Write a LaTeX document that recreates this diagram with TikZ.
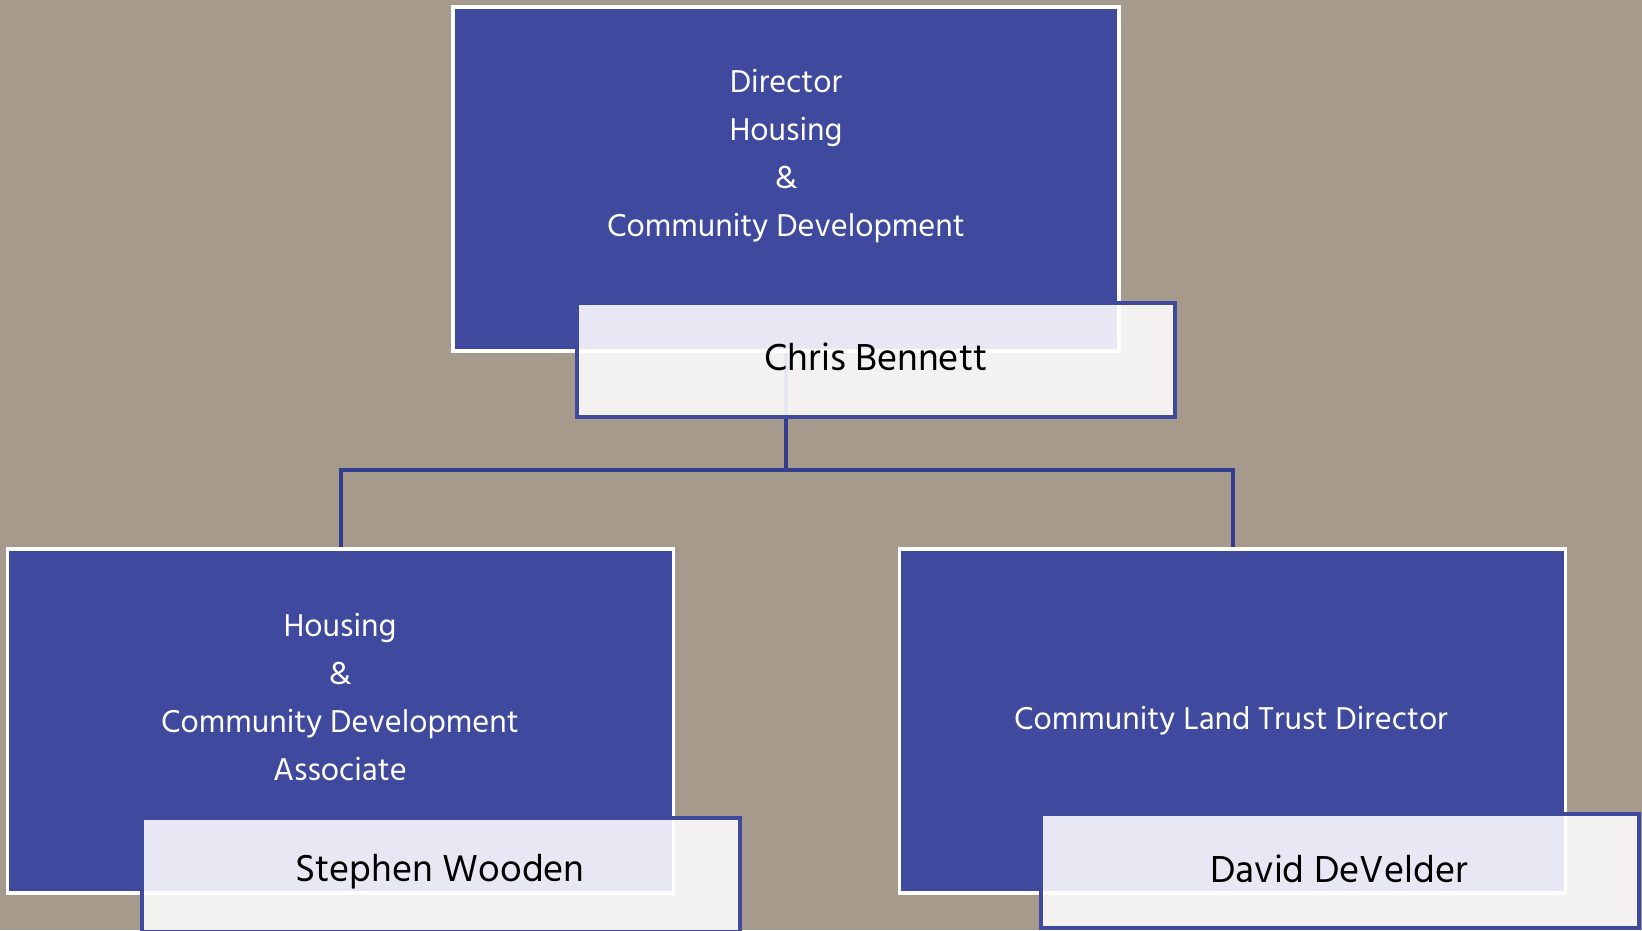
\documentclass[tikz,border=0pt]{standalone}
\usepackage{fontspec}
\setmainfont{Hind Madurai}
\definecolor{bg}{HTML}{A69A8C}
\definecolor{boxblue}{HTML}{3F4A9E}
\definecolor{lineblue}{HTML}{333D8E}
\tikzset{
  rolebox/.style={draw=white, line width=3.5pt, fill=boxblue, inner sep=0pt, minimum width=666pt, minimum height=344pt},
  namebox/.style={draw=boxblue, line width=3.5pt, fill=white, fill opacity=0.88, draw opacity=1, text opacity=1, inner sep=0pt, minimum width=598pt, minimum height=114pt},
  roletext/.style={text=white, align=center, font=\fontsize{32.4}{48}\selectfont, inner sep=0pt},
  nametext/.style={text=black, font=\fontsize{38.5}{44}\selectfont, inner sep=0pt},
  conn/.style={draw=lineblue, line width=4pt}
}
\begin{document}
\begin{tikzpicture}[x=1pt,y=-1pt]
\fill[bg] (0,0) rectangle (1642,930);
\useasboundingbox (0,0) rectangle (1642,930);
% role boxes
\node[rolebox] (top) at (786,179) {};
\node[rolebox] (left) at (340.5,721) {};
\node[rolebox] (right) at (1232.5,721) {};
% connectors
\coordinate (bus) at (786,470);
\draw[conn] (top.south) -- (bus);
\draw[conn] (left.north) |- (bus) -| (right.north);
% role texts
\node[roletext] (toptext) at (786,156) {Director\\Housing\\\&\\Community Development};
\node[roletext] (lefttext) at (340,697) {Housing\\\&\\Community Development\\Associate};
\node[roletext] (righttext) at (1231,721) {Community Land Trust Director};
% name boxes
\node[namebox] (chris) at (876,360) {};
\node[namebox] (stephen) at (441,875) {};
\node[namebox] (david) at (1340,871) {};
\node[nametext] (chrisname) at (876,357) {Chris Bennett};
\node[nametext] (stephenname) at (440,872) {Stephen Wooden};
\node[nametext] (davidname) at (1339,869) {David DeVelder};
\end{tikzpicture}
\end{document}
